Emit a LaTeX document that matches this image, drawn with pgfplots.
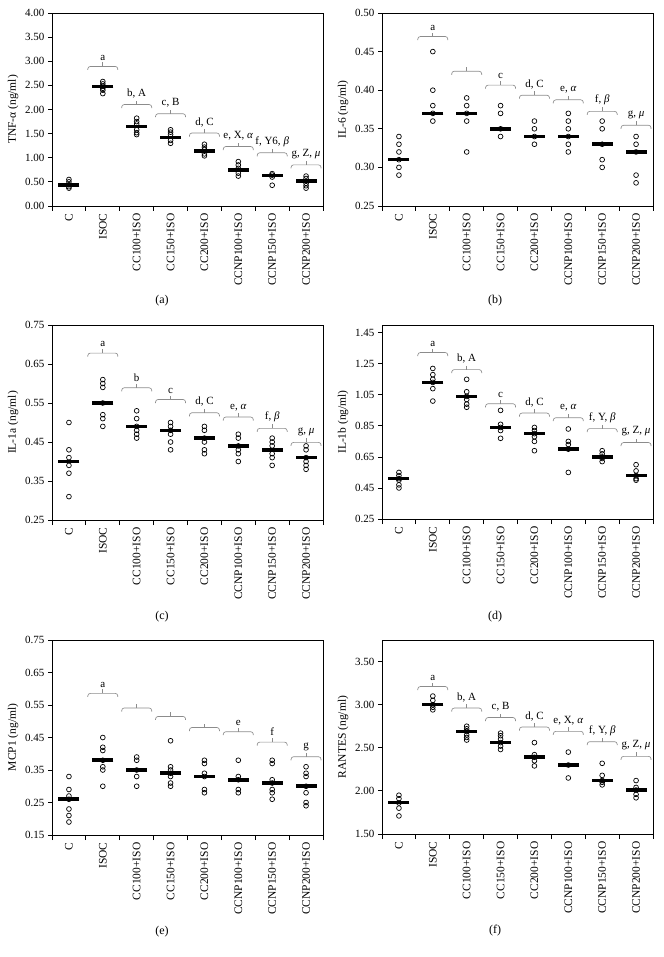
\documentclass[border=0pt]{standalone}
\usepackage{pgfplots}
\pgfplotsset{compat=1.18}
\usepackage{fontspec}
\setmainfont{Liberation Serif}
\definecolor{brkcol}{RGB}{140,140,140}
\newcommand{\brk}[3]{%
 \draw[brkcol, line width=0.65pt, rounded corners=2.5pt] ([xshift=-15pt]axis cs:#1,#2) -- ([shift={(-15pt,3.5pt)}]axis cs:#1,#2) -- ([shift={(15pt,3.5pt)}]axis cs:#1,#2) -- ([xshift=15pt]axis cs:#1,#2);
 \draw[brkcol, line width=0.65pt] ([yshift=3.5pt]axis cs:#1,#2) -- ([yshift=7.5pt]axis cs:#1,#2);
 \node[anchor=south, inner sep=1pt, font=\fontsize{11}{13}\selectfont] at ([yshift=8.5pt]axis cs:#1,#2) {#3};}
\pgfplotsset{panel/.style={
 scale only axis, width=271pt, anchor=south west,
 xmin=-0.5, xmax=7.5,
 xtick={0,...,7},
 xticklabels={C,ISOC,CC100+ISO,CC150+ISO,CC200+ISO,CCNP100+ISO,CCNP150+ISO,CCNP200+ISO},
 minor xtick={-0.5,0.5,...,7.5},
 major x tick style={draw=none},
 tick align=outside, major tick length=4pt, minor tick length=5pt,
 tick pos=left,
 xticklabel style={rotate=90, anchor=east, font=\fontsize{11.5}{13}\selectfont},
 yticklabel style={font=\fontsize{11}{13}\selectfont},
 ylabel style={font=\fontsize{11.5}{13}\selectfont},
 y tick label style={/pgf/number format/.cd, fixed, fixed zerofill, precision=2, assume math mode=true},
 axis line style={black, line width=0.8pt},
 tick style={black, line width=0.8pt},
 clip=false,
},
pts/.style={only marks, mark=o, mark size=2.4pt, mark options={line width=0.7pt, black}},
med/.style={only marks, mark=-, mark size=10.5pt, mark options={line width=3.6pt, black}},
}
\begin{document}
\begin{tikzpicture}
\useasboundingbox (0pt,0pt) rectangle (663pt,-957pt);
% (a)
\begin{axis}[panel, at={(52pt,-206pt)}, height=193pt, ymin=0, ymax=4, ytick={0,0.5,...,4}, ylabel={TNF-α (ng/ml)}]
\addplot[med] coordinates {(0,0.44)(1,2.48)(2,1.65)(3,1.42)(4,1.14)(5,0.75)(6,0.63)(7,0.52)};
\addplot[pts] coordinates {
(0,0.55)(0,0.50)(0,0.44)(0,0.40)(0,0.37)
(1,2.58)(1,2.53)(1,2.48)(1,2.44)(1,2.40)(1,2.33)
(2,1.82)(2,1.75)(2,1.70)(2,1.58)(2,1.52)(2,1.48)
(3,1.58)(3,1.53)(3,1.48)(3,1.36)(3,1.30)
(4,1.28)(4,1.22)(4,1.17)(4,1.08)(4,1.04)
(5,0.92)(5,0.85)(5,0.78)(5,0.68)(5,0.62)
(6,0.67)(6,0.64)(6,0.60)(6,0.43)
(7,0.62)(7,0.57)(7,0.47)(7,0.42)(7,0.37)};
\brk{1}{2.82}{a}
\brk{2}{2.03}{b, A}
\brk{3}{1.84}{c, B}
\brk{4}{1.44}{d, C}
\brk{5}{1.16}{e, X, \textit{α}}
\brk{6}{1.03}{f, Y6, \textit{β}}
\brk{7}{0.78}{g, Z, \textit{μ}}
\end{axis}
% (b)
\begin{axis}[panel, at={(382pt,-206pt)}, height=193pt, ymin=0.25, ymax=0.5, ytick={0.25,0.30,...,0.50}, ylabel={IL-6 (ng/ml)}]
\addplot[med] coordinates {(0,0.31)(1,0.37)(2,0.37)(3,0.35)(4,0.34)(5,0.34)(6,0.33)(7,0.32)};
\addplot[pts] coordinates {
(0,0.34)(0,0.33)(0,0.32)(0,0.31)(0,0.30)(0,0.29)
(1,0.45)(1,0.40)(1,0.38)(1,0.37)(1,0.36)
(2,0.39)(2,0.38)(2,0.37)(2,0.36)(2,0.32)
(3,0.38)(3,0.37)(3,0.35)(3,0.34)
(4,0.36)(4,0.35)(4,0.34)(4,0.33)
(5,0.37)(5,0.36)(5,0.35)(5,0.34)(5,0.33)(5,0.32)
(6,0.36)(6,0.35)(6,0.33)(6,0.31)(6,0.30)
(7,0.34)(7,0.33)(7,0.32)(7,0.29)(7,0.28)};
\brk{1}{0.465}{a}
\brk{2}{0.420}{}
\brk{3}{0.402}{c}
\brk{4}{0.389}{d, C}
\brk{5}{0.383}{e, \textit{α}}
\brk{6}{0.368}{f, \textit{β}}
\brk{7}{0.350}{g, \textit{μ}}
\end{axis}
% (c)
\begin{axis}[panel, at={(52pt,-520pt)}, height=195pt, ymin=0.25, ymax=0.75, ytick={0.25,0.35,...,0.75}, ylabel={IL-1a (ng/ml)}]
\addplot[med] coordinates {(0,0.40)(1,0.55)(2,0.49)(3,0.48)(4,0.46)(5,0.44)(6,0.43)(7,0.41)};
\addplot[pts] coordinates {
(0,0.50)(0,0.43)(0,0.41)(0,0.39)(0,0.37)(0,0.31)
(1,0.61)(1,0.60)(1,0.59)(1,0.55)(1,0.52)(1,0.51)(1,0.49)
(2,0.53)(2,0.51)(2,0.49)(2,0.48)(2,0.47)(2,0.46)
(3,0.50)(3,0.49)(3,0.48)(3,0.47)(3,0.45)(3,0.43)
(4,0.49)(4,0.48)(4,0.46)(4,0.45)(4,0.43)(4,0.42)
(5,0.47)(5,0.46)(5,0.44)(5,0.43)(5,0.42)(5,0.40)
(6,0.46)(6,0.45)(6,0.44)(6,0.42)(6,0.41)(6,0.39)
(7,0.44)(7,0.43)(7,0.41)(7,0.40)(7,0.39)(7,0.38)};
\brk{1}{0.669}{a}
\brk{2}{0.580}{b}
\brk{3}{0.550}{c}
\brk{4}{0.516}{d, C}
\brk{5}{0.505}{e, \textit{α}}
\brk{6}{0.476}{f, \textit{β}}
\brk{7}{0.440}{g, \textit{μ}}
\end{axis}
% (d)
\begin{axis}[panel, at={(382pt,-519pt)}, height=194pt, ymin=0.25, ymax=1.5, ytick={0.25,0.45,...,1.45}, ylabel={IL-1b (ng/ml)}]
\addplot[med] coordinates {(0,0.51)(1,1.13)(2,1.04)(3,0.84)(4,0.80)(5,0.70)(6,0.65)(7,0.53)};
\addplot[pts] coordinates {
(0,0.55)(0,0.53)(0,0.51)(0,0.50)(0,0.47)(0,0.45)
(1,1.22)(1,1.18)(1,1.15)(1,1.13)(1,1.09)(1,1.01)
(2,1.15)(2,1.07)(2,1.04)(2,1.02)(2,0.99)(2,0.97)
(3,0.95)(3,0.86)(3,0.84)(3,0.82)(3,0.77)
(4,0.84)(4,0.82)(4,0.80)(4,0.78)(4,0.75)(4,0.69)
(5,0.83)(5,0.75)(5,0.73)(5,0.70)(5,0.55)
(6,0.69)(6,0.67)(6,0.65)(6,0.64)(6,0.62)
(7,0.60)(7,0.56)(7,0.53)(7,0.51)(7,0.50)};
\brk{1}{1.30}{a}
\brk{2}{1.19}{b, A}
\brk{3}{0.97}{c}
\brk{4}{0.91}{d, C}
\brk{5}{0.88}{e, \textit{α}}
\brk{6}{0.81}{f, Y, \textit{β}}
\brk{7}{0.72}{g, Z, \textit{μ}}
\end{axis}
% (e)
\begin{axis}[panel, at={(52pt,-835pt)}, height=195pt, ymin=0.15, ymax=0.75, ytick={0.15,0.25,...,0.75}, ylabel={MCP1 (ng/ml)}]
\addplot[med] coordinates {(0,0.26)(1,0.38)(2,0.35)(3,0.34)(4,0.33)(5,0.32)(6,0.31)(7,0.30)};
\addplot[pts] coordinates {
(0,0.33)(0,0.29)(0,0.27)(0,0.26)(0,0.23)(0,0.21)(0,0.19)
(1,0.45)(1,0.42)(1,0.41)(1,0.38)(1,0.36)(1,0.35)(1,0.30)
(2,0.39)(2,0.38)(2,0.35)(2,0.33)(2,0.30)
(3,0.44)(3,0.36)(3,0.35)(3,0.34)(3,0.33)(3,0.31)(3,0.30)
(4,0.38)(4,0.37)(4,0.34)(4,0.33)(4,0.29)(4,0.28)
(5,0.38)(5,0.33)(5,0.32)(5,0.29)(5,0.28)
(6,0.38)(6,0.37)(6,0.32)(6,0.31)(6,0.29)(6,0.28)(6,0.26)
(7,0.36)(7,0.34)(7,0.33)(7,0.30)(7,0.28)(7,0.25)(7,0.24)};
\brk{1}{0.575}{a}
\brk{2}{0.530}{}
\brk{3}{0.504}{}
\brk{4}{0.470}{}
\brk{5}{0.457}{e}
\brk{6}{0.425}{f}
\brk{7}{0.380}{g}
\end{axis}
% (f)
\begin{axis}[panel, at={(382pt,-834pt)}, height=194pt, ymin=1.5, ymax=3.75, ytick={1.5,2,...,3.5}, ylabel={RANTES (ng/ml)}]
\addplot[med] coordinates {(0,1.865)(1,3.00)(2,2.69)(3,2.56)(4,2.39)(5,2.30)(6,2.12)(7,2.01)};
\addplot[pts] coordinates {
(0,1.95)(0,1.91)(0,1.86)(0,1.80)(0,1.71)
(1,3.10)(1,3.05)(1,3.00)(1,2.97)(1,2.94)
(2,2.75)(2,2.72)(2,2.69)(2,2.65)(2,2.62)(2,2.59)
(3,2.67)(3,2.64)(3,2.60)(3,2.56)(3,2.52)(3,2.48)
(4,2.56)(4,2.42)(4,2.39)(4,2.35)(4,2.29)
(5,2.45)(5,2.30)(5,2.15)
(6,2.32)(6,2.18)(6,2.12)(6,2.10)(6,2.07)
(7,2.12)(7,2.04)(7,2.01)(7,1.96)(7,1.92)};
\brk{1}{3.17}{a}
\brk{2}{2.92}{b, A}
\brk{3}{2.81}{c, B}
\brk{4}{2.70}{d, C}
\brk{5}{2.65}{e, X, \textit{α}}
\brk{6}{2.53}{f, Y, \textit{β}}
\brk{7}{2.36}{g, Z, \textit{μ}}
\end{axis}
\node[font=\fontsize{12}{14}\selectfont] at (162pt,-301pt) {(a)};
\node[font=\fontsize{12}{14}\selectfont] at (495pt,-301pt) {(b)};
\node[font=\fontsize{12}{14}\selectfont] at (162pt,-617pt) {(c)};
\node[font=\fontsize{12}{14}\selectfont] at (495pt,-617pt) {(d)};
\node[font=\fontsize{12}{14}\selectfont] at (162pt,-932pt) {(e)};
\node[font=\fontsize{12}{14}\selectfont] at (495pt,-931pt) {(f)};
\end{tikzpicture}
\end{document}
